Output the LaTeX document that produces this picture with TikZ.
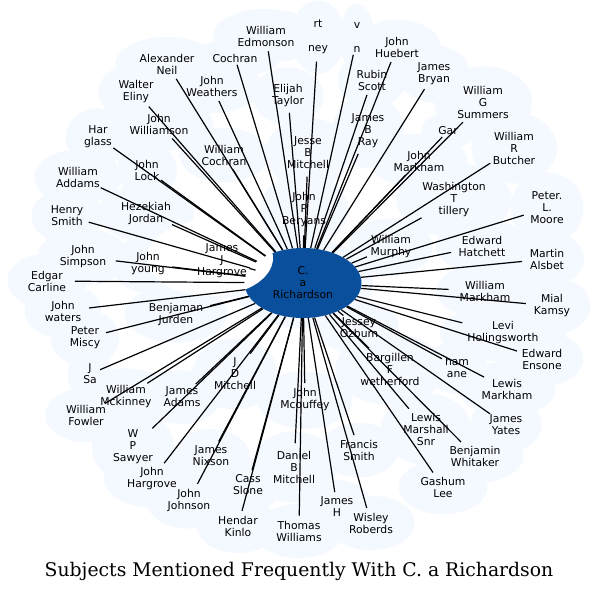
\documentclass[tikz,border=0pt]{standalone}
\usepackage{fontspec}
\setmainfont{DejaVu Sans}
\newfontfamily\titlefont{DejaVu Serif}
\usetikzlibrary{shapes.geometric}
\definecolor{cloudc}{RGB}{244,248,255}
\definecolor{hubc}{RGB}{10,79,155}
\tikzset{
  lbl/.style={ellipse, align=center, inner sep=0.5pt, font=\fontsize{10.8}{12}\selectfont},
  cloudnd/.style={lbl, fill=cloudc, inner sep=9pt, text opacity=0},
  edge/.style={draw=black, line width=1.2pt},
  hub/.style={ellipse, fill=hubc, minimum width=117pt, minimum height=70pt, inner sep=0pt, align=center, font=\fontsize{10.8}{12}\selectfont}
}
\newcommand\nodelist{%
 \mynode{n1}{266}{36}{William\\Edmonson}%
 \mynode{n2}{318}{37}{rt\\ \\ney}%
 \mynode{n3}{357}{38}{v\\ \\n}%
 \mynode{n4}{397}{47}{John\\Huebert}%
 \mynode{n5}{167}{64}{Alexander\\Neil}%
 \mynode{n6}{235}{58}{Cochran}%
 \mynode{n7}{136}{92}{Walter\\Eliny}%
 \mynode{n8}{212}{86}{John\\Weathers}%
 \mynode{n9}{288}{96}{Elijah\\Taylor}%
 \mynode{n10}{372}{80}{Rubin\\Scott}%
 \mynode{n11}{434}{74}{James\\Bryan}%
 \mynode{n12}{483}{102}{William\\G\\Summers}%
 \mynode{n13}{98}{137}{Har\\glass}%
 \mynode{n14}{159}{124}{John\\Williamson}%
 \mynode{n15}{308}{153}{Jesse\\B\\Mitchell}%
 \mynode{n16}{368}{131}{James\\B\\Ray}%
 \mynode{n17}{448}{131}{Gar}%
 \mynode{n18}{514}{148}{William\\R\\Butcher}%
 \mynode{n19}{78}{177}{William\\Addams}%
 \mynode{n20}{147}{170}{John\\Lock}%
 \mynode{n21}{224}{155}{William\\Cochran}%
 \mynode{n22}{419}{161}{John\\Markham}%
 \mynode{n23}{454}{200}{Washington\\T\\tillery}%
 \mynode{n24}{547}{208}{Peter.\\L.\\Moore}%
 \mynode{n25}{67}{216}{Henry\\Smith}%
 \mynode{n26}{146}{213}{Hezekiah\\Jordan}%
 \mynode{n27}{304}{210}{John\\P\\Beryans}%
 \mynode{n28}{391}{247}{William\\Murphy}%
 \mynode{n29}{482}{246}{Edward\\Hatchett}%
 \mynode{n30}{547}{259}{Martin\\Alsbet}%
 \mynode{n31}{83}{257}{John\\Simpson}%
 \mynode{n32}{148}{264}{John\\young}%
 \mynode{n33}{222}{261}{James\\J\\Hargrove}%
 \mynode{n34}{47}{281}{Edgar\\Carline}%
 \mynode{n35}{485}{291}{William\\Markham}%
 \mynode{n36}{63}{311}{John\\waters}%
 \mynode{n37}{176}{314}{Benjaman\\Jurden}%
 \mynode{n38}{552}{306}{Mial\\Kamsy}%
 \mynode{n39}{359}{328}{Jessey\\Ozbum}%
 \mynode{n40}{85}{338}{Peter\\Miscy}%
 \mynode{n41}{503}{333}{Levi\\Holingsworth}%
 \mynode{n42}{542}{359}{Edward\\Ensone}%
 \mynode{n43}{90}{374}{J\\Sa}%
 \mynode{n44}{235}{374}{J\\D\\Mitchell}%
 \mynode{n45}{390}{369}{Bargillen\\F\\wetherford}%
 \mynode{n46}{457}{367}{ham\\ane}%
 \mynode{n47}{507}{389}{Lewis\\Markham}%
 \mynode{n48}{126}{397}{William\\Mckinney}%
 \mynode{n49}{182}{397}{James\\Adams}%
 \mynode{n50}{305}{400}{John\\Mcouffey}%
 \mynode{n51}{86}{415}{William\\Fowler}%
 \mynode{n52}{506}{425}{James\\Yates}%
 \mynode{n53}{426}{429}{Lewis\\Marshall\\Snr}%
 \mynode{n54}{133}{447}{W\\P\\Sawyer}%
 \mynode{n55}{359}{450}{Francis\\Smith}%
 \mynode{n56}{475}{456}{Benjamin\\Whitaker}%
 \mynode{n57}{211}{456}{James\\Nixson}%
 \mynode{n58}{294}{467}{Daniel\\B\\Mitchell}%
 \mynode{n59}{152}{479}{John\\Hargrove}%
 \mynode{n60}{443}{487}{Gashum\\Lee}%
 \mynode{n61}{248}{485}{Cass\\Slone}%
 \mynode{n62}{189}{500}{John\\Johnson}%
 \mynode{n63}{337}{507}{James\\H}%
 \mynode{n64}{371}{523}{Wisley\\Roberds}%
 \mynode{n65}{238}{526}{Hendar\\Kinlo}%
 \mynode{n66}{299}{531}{Thomas\\Williams}%
}
\begin{document}
\begin{tikzpicture}[x=1pt,y=1pt]
\useasboundingbox (0,0) rectangle (599,-592);
\fill[white] (0,0) rectangle (599,-592);
% cloud
\def\mynode#1#2#3#4{\node[cloudnd] at (#2,-#3) {#4};}
\nodelist
\node[cloudnd, minimum width=140pt, minimum height=90pt] at (303,-283) {};
% hub
\node[hub] (c) at (303,-283) {C.\\a\\Richardson};
\fill[white] (210,-258) ellipse [x radius=63, y radius=38];
% labels
\def\mynode#1#2#3#4{\node[lbl] (#1) at (#2,-#3) {#4};}
\nodelist
% edges
\def\mynode#1#2#3#4{\draw[edge] (c) -- (#1);}
\nodelist
% title
\node[font=\titlefont\fontsize{18.8}{22}\selectfont] (title) at (299,-571) {Subjects Mentioned Frequently With C. a Richardson};
\end{tikzpicture}
\end{document}
